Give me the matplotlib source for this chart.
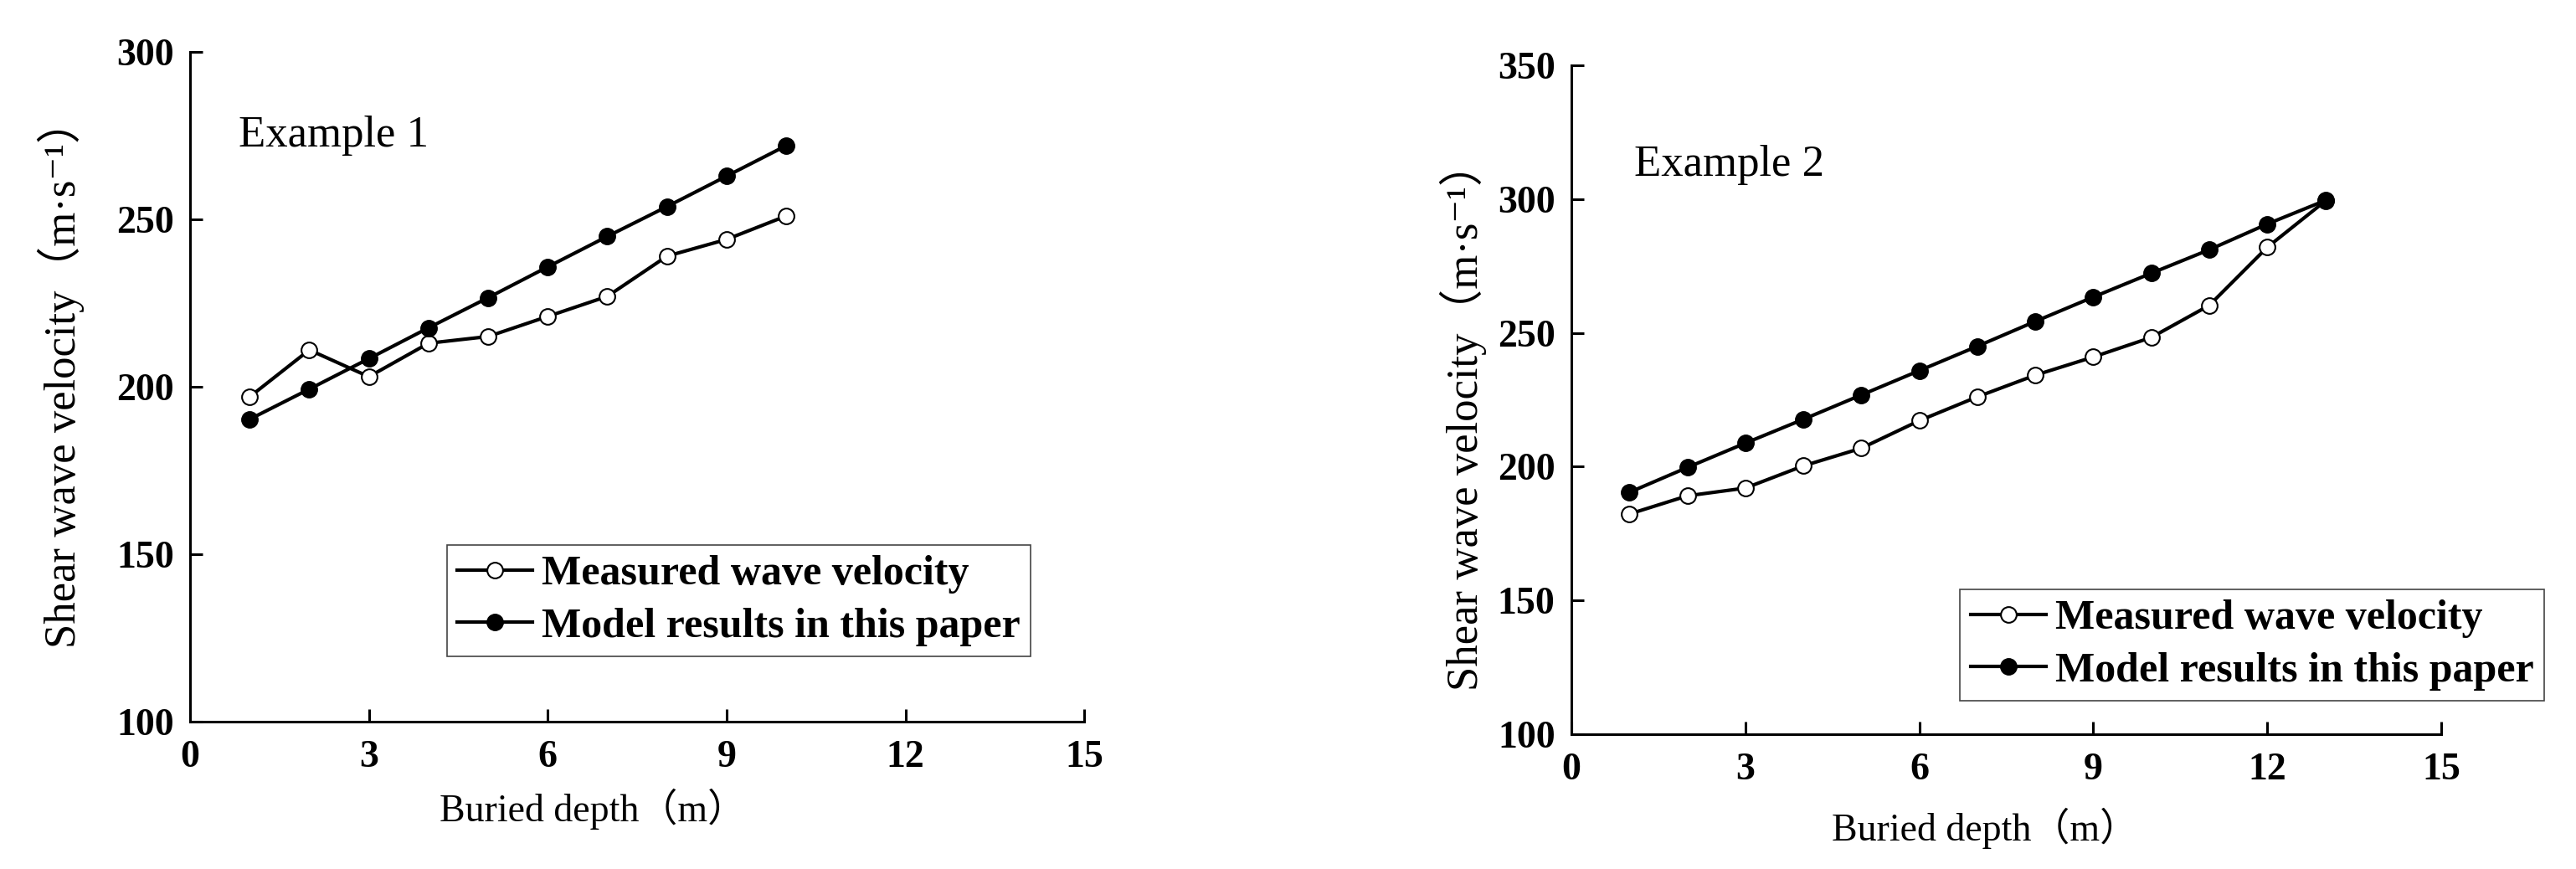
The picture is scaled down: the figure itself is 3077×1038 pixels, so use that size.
import numpy as np
import matplotlib
matplotlib.use('Agg')
import matplotlib.pyplot as plt

# Data
depth_1 = [1, 2, 3, 4, 5, 6, 7, 8, 9, 10]
measured_1 = [197, 211, 203, 213, 215, 221, 227, 239, 244, 251]
model_1 = [190.3, 199.3, 208.4, 217.6, 226.6, 235.8, 244.9, 253.8, 262.9, 272]

depth_2 = [1, 2, 3, 4, 5, 6, 7, 8, 9, 10, 11, 12, 13]
measured_2 = [182.3, 189.1, 192, 200.3, 206.9, 217.2, 226.1, 234.2, 241, 248.3, 260.3, 282, 299.3]
model_2 = [190.4, 199.7, 208.8, 217.7, 226.8, 235.9, 245, 254.3, 263.4, 272.3, 281.1, 290.7, 299.5]

x_ticks = [0, 3, 6, 9, 12, 15]
y_ticks_1 = [100, 150, 200, 250, 300]
y_ticks_2 = [100, 150, 200, 250, 300, 350]

serif = ['Liberation Serif', 'Noto Sans CJK SC', 'DejaVu Serif']
plt.rcParams['font.family'] = serif

fig = plt.figure(figsize=(30.77, 10.38), dpi=100)
ax1 = fig.add_axes([0.0738, 0.1696, 0.3471, 0.7707])
ax2 = fig.add_axes([0.6100, 0.1551, 0.3377, 0.7697])


def draw_panel(ax, x, meas, model, yticks, title, title_pos, legend_anchor, ylab_pos, xlab_pos):
    ax.plot(x, meas, color='black', linewidth=3.0, marker='o', markersize=13.5,
            markerfacecolor='white', markeredgecolor='black', markeredgewidth=1.5,
            label='Measured wave velocity', zorder=3)
    ax.plot(x, model, color='black', linewidth=3.0, marker='o', markersize=14,
            markerfacecolor='black', markeredgecolor='black',
            label='Model results in this paper', zorder=3)

    ax.set_xlim(0, 15)
    ax.set_ylim(yticks[0], yticks[-1])
    ax.set_xticks(x_ticks)
    ax.set_yticks(yticks)

    # only left and bottom axis lines, ticks pointing inward
    ax.spines['top'].set_visible(False)
    ax.spines['right'].set_visible(False)
    ax.spines['left'].set_linewidth(2.2)
    ax.spines['bottom'].set_linewidth(2.2)
    ax.tick_params(direction='in', length=11, width=2.2, labelsize=33, pad=14)
    ax.tick_params(axis='x', pad=16)
    for lab in ax.get_xticklabels() + ax.get_yticklabels():
        lab.set_fontweight('bold')

    ax.text(title_pos[0], title_pos[1], title, transform=ax.transAxes,
            fontsize=38, ha='left', va='center')

    ax.set_xlabel('Buried depth（m）', fontsize=33)
    ax.set_ylabel('Shear wave velocity（m·s⁻¹）', fontsize=38)
    ax.xaxis.set_label_coords(*xlab_pos)
    ax.yaxis.set_label_coords(*ylab_pos)
    ax.xaxis.label.set_va('center')
    ax.yaxis.label.set_va('center')

    leg = ax.legend(loc='upper left', bbox_to_anchor=legend_anchor, borderaxespad=0,
                    prop={'family': serif, 'weight': 'bold', 'size': 36},
                    handlelength=1.8, handletextpad=0.22, labelspacing=0.33,
                    borderpad=0.25, fancybox=False, framealpha=1)
    leg.get_frame().set_edgecolor('#444444')
    leg.get_frame().set_linewidth(1.2)


draw_panel(ax1, depth_1, measured_1, model_1, y_ticks_1, 'Example 1',
           (0.054, 0.875), (0.287, 0.264), (-0.144, 0.52), (0.45, -0.131))
draw_panel(ax2, depth_2, measured_2, model_2, y_ticks_2, 'Example 2',
           (0.072, 0.851), (0.4466, 0.217), (-0.124, 0.475), (0.475, -0.141))

plt.savefig('out.png', dpi=100)
